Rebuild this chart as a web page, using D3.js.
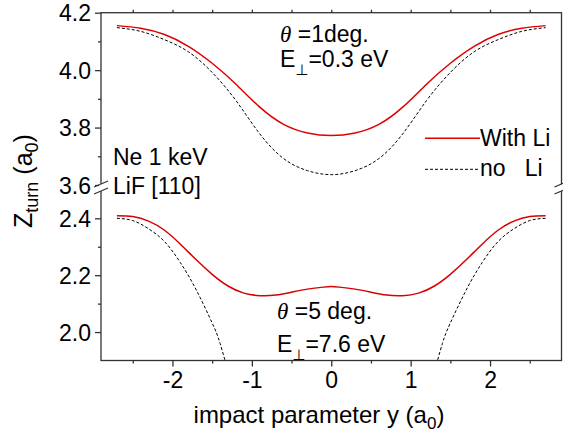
<!DOCTYPE html>
<html><head><meta charset="utf-8">
<script src="https://cdn.jsdelivr.net/npm/d3@7"></script>
<style>
body{margin:0;background:#fff;}
svg text{font-family:"Liberation Sans",Arial,sans-serif;fill:#000;white-space:pre;}
</style></head>
<body>
<svg id="c" width="563" height="434"></svg>
<script>
// ---- data ----
const xUpper = [-2.7,-2.4,-2.1,-1.8,-1.5,-1.2,-0.9,-0.6,-0.3,0,0.3,0.6,0.9,1.2,1.5,1.8,2.1,2.4,2.7];
const withLiUpper = [4.155,4.146,4.124,4.083,4.024,3.951,3.871,3.811,3.781,3.772,3.781,3.811,3.871,3.951,4.024,4.083,4.124,4.146,4.155];
const noLiUpper   = [4.148,4.135,4.106,4.064,3.992,3.894,3.778,3.692,3.650,3.636,3.650,3.692,3.778,3.894,3.992,4.064,4.106,4.135,4.148];
const xLowerRed = [-2.7,-2.5,-2.3,-2.1,-1.9,-1.7,-1.5,-1.3,-1.1,-0.9,-0.7,-0.5,-0.3,-0.1,0,0.1,0.3,0.5,0.7,0.9,1.1,1.3,1.5,1.7,1.9,2.1,2.3,2.5,2.7];
const withLiLower = [2.409,2.406,2.390,2.358,2.309,2.254,2.203,2.162,2.137,2.128,2.130,2.140,2.151,2.158,2.160,2.158,2.151,2.140,2.130,2.128,2.137,2.162,2.203,2.254,2.309,2.358,2.390,2.406,2.409];
const xLowerBlackL = [-2.7,-2.5,-2.3,-2.1,-1.9,-1.7,-1.5,-1.4,-1.3,-1.25];
const noLiLowerL   = [2.400,2.392,2.363,2.318,2.244,2.148,2.032,1.960,1.860,1.800];
const xLowerBlackR = [1.25,1.3,1.4,1.5,1.7,1.9,2.1,2.3,2.5,2.7];
const noLiLowerR   = [1.800,1.860,1.960,2.032,2.148,2.244,2.318,2.363,2.392,2.400];
const xTicks = [-2,-1,0,1,2];
const xMinor = [-2.5,-1.5,-0.5,0.5,1.5,2.5];
const yUpperTicks = [3.6,3.8,4.0,4.2];
const yUpperMinor = [3.7,3.9,4.1];
const yLowerTicks = [2.0,2.2,2.4];
const yLowerMinor = [2.1,2.3];
const yUpperLabels = ["3.6","3.8","4.0","4.2"];
const yLowerLabels = ["2.0","2.2","2.4"];
const seriesNames = ["With Li","no   Li"];

// ---- layout ----
const L=101, R=561.5, T=12.7, B=360.5;
const svg = d3.select("#c");
const x = d3.scaleLinear().domain([-2.9,2.9]).range([L,R]);
const yU = d3.scaleLinear().domain([3.6,4.2]).range([185,T]);
const yD = d3.scaleLinear().domain([1.9,2.4]).range([B,218.3]);
const axisColor = "#333";

const defs = svg.append("defs");
defs.append("clipPath").attr("id","clipU").append("rect").attr("x",L).attr("y",T).attr("width",R-L).attr("height",188-T);
defs.append("clipPath").attr("id","clipD").append("rect").attr("x",L).attr("y",196).attr("width",R-L).attr("height",B-196);

// curves
function line(ysc){ return d3.line().x(d=>x(d[0])).y(d=>ysc(d[1])).curve(d3.curveNatural); }
const gU = svg.append("g").attr("clip-path","url(#clipU)");
const gD = svg.append("g").attr("clip-path","url(#clipD)");
gU.append("path").datum(xUpper.map((v,i)=>[v,noLiUpper[i]])).attr("d",line(yU)).attr("fill","none").attr("stroke","#000").attr("stroke-width",1).attr("stroke-dasharray","3,2");
gU.append("path").datum(xUpper.map((v,i)=>[v,withLiUpper[i]])).attr("d",line(yU)).attr("fill","none").attr("stroke","#e00000").attr("stroke-width",1.5);
gD.append("path").datum(xLowerBlackL.map((v,i)=>[v,noLiLowerL[i]])).attr("d",line(yD)).attr("fill","none").attr("stroke","#000").attr("stroke-width",1).attr("stroke-dasharray","3,2");
gD.append("path").datum(xLowerBlackR.map((v,i)=>[v,noLiLowerR[i]])).attr("d",line(yD)).attr("fill","none").attr("stroke","#000").attr("stroke-width",1).attr("stroke-dasharray","3,2");
gD.append("path").datum(xLowerRed.map((v,i)=>[v,withLiLower[i]])).attr("d",line(yD)).attr("fill","none").attr("stroke","#d80000").attr("stroke-width",1.5);

// frame
svg.append("rect").attr("x",L).attr("y",T).attr("width",R-L).attr("height",B-T).attr("fill","none").attr("stroke",axisColor).attr("stroke-width",1.3);

// x axis bottom
const xb = d3.axisBottom(x).tickValues(xTicks).tickSize(6).tickFormat(d=>d3.format("d")(d).replace("−","-"));
const gx = svg.append("g").attr("transform",`translate(0,${B})`).call(xb);
gx.select(".domain").remove();
gx.selectAll(".tick line").attr("stroke",axisColor).attr("stroke-width",1.3);
gx.selectAll(".tick text").attr("font-size",23).attr("y",11).attr("dy","0.71em").attr("font-family","Liberation Sans, Arial").attr("fill","#000");
const gxm = svg.append("g").attr("transform",`translate(0,${B})`).call(d3.axisBottom(x).tickValues(xMinor).tickSize(3).tickFormat(""));
gxm.select(".domain").remove(); gxm.selectAll(".tick line").attr("stroke",axisColor).attr("stroke-width",1.3);
// x axis top
const gxt = svg.append("g").attr("transform",`translate(0,${T})`).call(d3.axisTop(x).tickValues(xTicks.concat(xMinor)).tickSize(3).tickFormat(""));
gxt.select(".domain").remove(); gxt.selectAll(".tick line").attr("stroke",axisColor).attr("stroke-width",1.3);

// y axes
function yAxis(sc, ticks, labels, minor){
  const g = svg.append("g").attr("transform",`translate(${L},0)`).call(d3.axisLeft(sc).tickValues(ticks).tickSize(6).tickFormat((d,i)=>labels[i]));
  g.select(".domain").remove();
  g.selectAll(".tick line").attr("stroke",axisColor).attr("stroke-width",1.3);
  g.selectAll(".tick text").attr("font-size",23).attr("x",-10).attr("dy","0.36em").attr("font-family","Liberation Sans, Arial").attr("fill","#000");
  const gm = svg.append("g").attr("transform",`translate(${L},0)`).call(d3.axisLeft(sc).tickValues(minor).tickSize(3).tickFormat(""));
  gm.select(".domain").remove(); gm.selectAll(".tick line").attr("stroke",axisColor).attr("stroke-width",1.3);
}
yAxis(yU, yUpperTicks, yUpperLabels, yUpperMinor);
yAxis(yD, yLowerTicks, yLowerLabels, yLowerMinor);

// axis break marks
[L,R].forEach(px=>{
  svg.append("rect").attr("x",px-2).attr("y",184).attr("width",4).attr("height",7).attr("fill","#fff");
  [184,191].forEach(py=>{
    svg.append("line").attr("x1",px-7).attr("y1",py+3).attr("x2",px+7).attr("y2",py-3).attr("stroke",axisColor).attr("stroke-width",1.3);
  });
});

// axis titles
const xt = svg.append("text").attr("x",319).attr("y",423).attr("text-anchor","middle").attr("font-size",24);
xt.append("tspan").text("impact parameter y (a");
xt.append("tspan").attr("font-size",17).attr("dy",6).text("0");
xt.append("tspan").attr("dy",-6).text(")");

const yt = svg.append("text").attr("transform","translate(32,181) rotate(-90)").attr("text-anchor","middle").attr("font-size",25);
yt.append("tspan").text("Z");
yt.append("tspan").attr("font-size",18).attr("dy",6).text("turn");
yt.append("tspan").attr("dy",-6).text(" (a");
yt.append("tspan").attr("font-size",18).attr("dy",6).text("0");
yt.append("tspan").attr("dy",-6).text(")");

// annotations
function thetaText(xp, yp, rest){
  const t = svg.append("text").attr("x",xp).attr("y",yp).attr("font-size",23);
  t.append("tspan").attr("font-family","Liberation Serif, Times New Roman, serif").attr("font-style","italic").text("θ");
  t.append("tspan").text(" " + rest);
}
function eText(xp, yp, rest){
  const t = svg.append("text").attr("x",xp).attr("y",yp).attr("font-size",23);
  t.append("tspan").text("E");
  t.append("tspan").attr("font-size",15).attr("dy",8).attr("font-family","DejaVu Sans, sans-serif").attr("fill","#000").text("⊥");
  t.append("tspan").attr("dy",-8).text(rest);
}
thetaText(280, 42, "=1deg.");
eText(280, 67, "=0.3 eV");
thetaText(277, 319, "=5 deg.");
eText(277, 352, "=7.6 eV");
svg.append("text").attr("x",113).attr("y",164.5).attr("font-size",23).text("Ne 1 keV");
svg.append("text").attr("x",113).attr("y",193.5).attr("font-size",23).text("LiF [110]");

// legend
svg.append("line").attr("x1",425).attr("x2",480).attr("y1",138.3).attr("y2",138.3).attr("stroke","#e00000").attr("stroke-width",1.5);
svg.append("text").attr("x",480).attr("y",145.5).attr("font-size",23).text(seriesNames[0]);
svg.append("line").attr("x1",425).attr("x2",480).attr("y1",169.3).attr("y2",169.3).attr("stroke","#000").attr("stroke-width",1).attr("stroke-dasharray","3,2");
svg.append("text").attr("x",480).attr("y",176).attr("font-size",23).text(seriesNames[1]);
</script>
</body></html>
